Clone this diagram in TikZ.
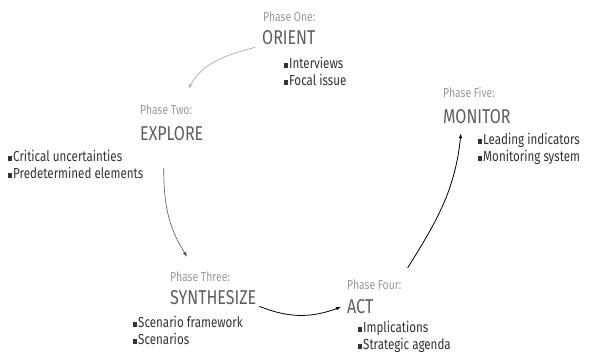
\documentclass[tikz,border=0pt]{standalone}
\usepackage{fontspec}
\setmainfont{Fira Sans}[FakeStretch=0.8]
\usepackage{xcolor}
\usetikzlibrary{arrows.meta,positioning,calc}
\definecolor{phasegrey}{HTML}{9A9A9A}
\definecolor{titlegrey}{HTML}{5E5E5E}
\definecolor{itemink}{HTML}{333333}
\definecolor{faintline}{HTML}{B4B4B4}
\definecolor{midline}{HTML}{555555}

\newcommand{\sq}{\rule[0.5pt]{3.5pt}{5pt}\hspace{1.5pt}}

\begin{document}
\begin{tikzpicture}[
  x=1pt, y=1pt,
  phase/.style={font=\fontsize{13}{14}\selectfont, text=phasegrey, anchor=west, inner sep=0pt},
  title/.style={font=\fontsize{20}{22}\selectfont, text=titlegrey, anchor=west, inner sep=0pt},
  items/.style={font=\fontsize{14.5}{17}\selectfont, text=itemink, anchor=west, align=left, inner sep=0pt},
  arr/.style={-{Latex[length=5pt, width=3.5pt]}, semithick}
]
\useasboundingbox (0,0) rectangle (591,-356);

% Phase one
\node[phase] (p1)  at (263,-17)  {Phase One:};
\node[title] (ori) at (262,-38)  {ORIENT};
\node[items] (i1)  at (284,-71)  {\sq Interviews\\ \sq Focal issue};

% Phase two
\node[phase] (p2)  at (140,-110) {Phase Two:};
\node[title] (exp) at (140,-134) {EXPLORE};
\node[items] (i2)  at (8,-164.5) {\sq Critical uncertainties\\ \sq Predetermined elements};

% Phase three
\node[phase] (p3)  at (170,-277) {Phase Three:};
\node[title] (syn) at (170,-298) {SYNTHESIZE};
\node[items] (i3)  at (133,-330) {\sq Scenario framework\\ \sq Scenarios};

% Phase four
\node[phase] (p4)  at (347,-285) {Phase Four:};
\node[title] (act) at (347,-307) {ACT};
\node[items] (i4)  at (358,-336.5) {\sq Implications\\ \sq Strategic agenda};

% Phase five
\node[phase] (p5)  at (443,-93)  {Phase Five:};
\node[title] (mon) at (443,-117) {MONITOR};
\node[items] (i5)  at (478,-148.5) {\sq Leading indicators\\ \sq Monitoring system};

% Cycle
\draw[arr, draw=faintline, thick]
  ($(ori.south west)+(-7,-2)$) to[out=195, in=60] ($(p2.north east)+(-4,16)$);
\draw[arr, draw=midline]
  ($(exp.south)+(-8,-27)$) to[out=-90, in=122] ($(p3.north)+(-13,15)$);
\draw[arr, draw=black, thick]
  ($(syn.south east)+(3,-1)$) to[out=-22, in=200] ($(act.west)+(-6,0)$);
\draw[arr, draw=black, thick]
  ($(p4.north east)+(6,12)$) to[out=58, in=-96] ($(mon.south)+(-16,-9)$);

\end{tikzpicture}
\end{document}
